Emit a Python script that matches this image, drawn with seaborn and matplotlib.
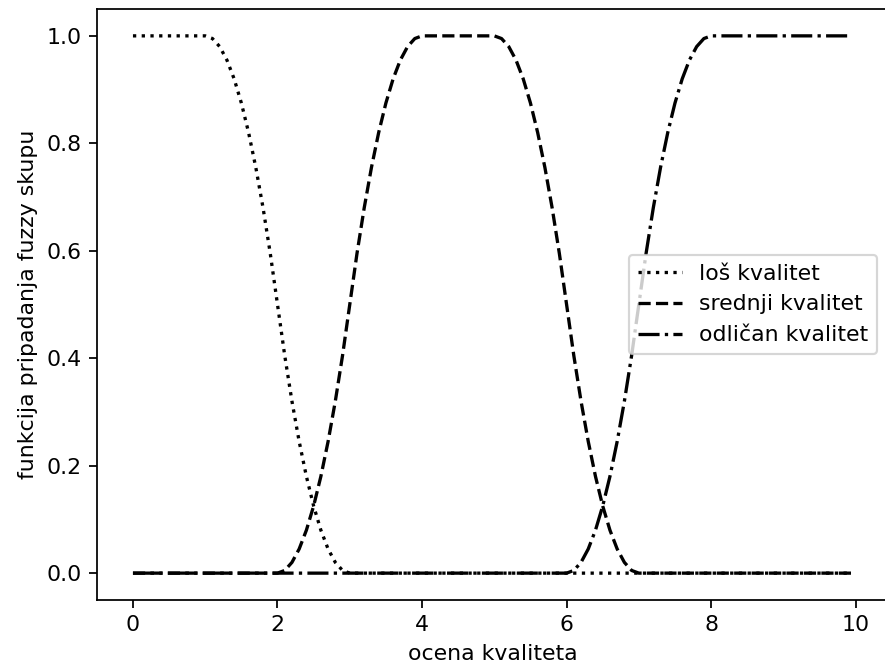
import matplotlib
matplotlib.use("Agg")
import matplotlib.pyplot as plt
import seaborn as sns
import pandas as pd

# S-curve transition values (0.1 steps in x)
rise = [0.0, 0.005, 0.02, 0.045, 0.08, 0.125, 0.18, 0.245, 0.32, 0.405, 0.5,
        0.595, 0.68, 0.755, 0.82, 0.875, 0.92, 0.955, 0.98, 0.995, 1.0]
fall = [1.0, 0.995, 0.98, 0.955, 0.92, 0.875, 0.82, 0.755, 0.68, 0.595, 0.5,
        0.405, 0.32, 0.245, 0.18, 0.125, 0.08, 0.045, 0.02, 0.005, 0.0]

step_x = [0.0, 0.1, 0.2, 0.3, 0.4, 0.5, 0.6, 0.7, 0.8, 0.9, 1.0,
          1.1, 1.2, 1.3, 1.4, 1.5, 1.6, 1.7, 1.8, 1.9, 2.0]

# loš kvalitet: 1 until x=1, falls to 0 at x=3
los_x = [0.0] + [1.0 + d for d in step_x] + [9.95]
los_y = [1.0] + fall + [0.0]

# srednji kvalitet: rises 2 -> 4, flat to 5, falls 5 -> 7
sred_x = [0.0] + [2.0 + d for d in step_x] + [5.0 + d for d in step_x] + [9.95]
sred_y = [0.0] + rise + fall + [0.0]

# odličan kvalitet: rises 6 -> 8
odl_x = [0.0] + [6.0 + d for d in step_x] + [9.95]
odl_y = [0.0] + rise + [1.0]

labels = ["loš kvalitet", "srednji kvalitet", "odličan kvalitet"]
styles = [":", "--", "-."]

DPI = 158
fig = plt.figure(figsize=(885 / DPI, 668 / DPI), dpi=DPI)
ax = fig.add_axes([97 / 885, 1 - 600 / 668, (888 - 97) / 885, (600 - 9) / 668])

for xs, ys, lab, ls in zip([los_x, sred_x, odl_x], [los_y, sred_y, odl_y], labels, styles):
    df = pd.DataFrame({"x": xs, "y": ys})
    sns.lineplot(data=df, x="x", y="y", ax=ax, color="black", linestyle=ls,
                 label=lab, linewidth=1.5, sort=False, estimator=None)

ax.set_xlim(-0.4975, 10.4475)
ax.set_ylim(-0.05, 1.05)
ax.set_xticks([0, 2, 4, 6, 8, 10])
ax.set_yticks([0.0, 0.2, 0.4, 0.6, 0.8, 1.0])
ax.set_xlabel("ocena kvaliteta")
ax.set_ylabel("funkcija pripadanja fuzzy skupu")
ax.legend(loc="center right")

fig.savefig("out.png", dpi=DPI)
